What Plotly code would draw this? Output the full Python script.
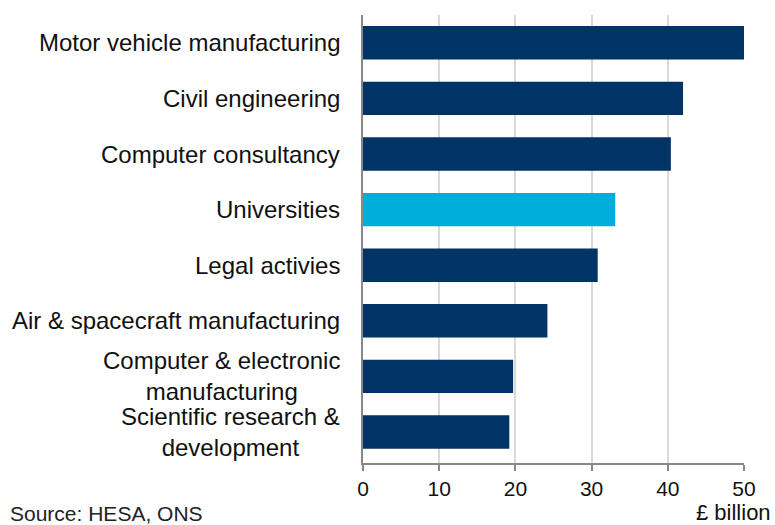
import plotly.graph_objects as go

# Gross value added by industry, £ billion
categories = [
    "Motor vehicle manufacturing",
    "Civil engineering",
    "Computer consultancy",
    "Universities",
    "Legal activies",
    "Air & spacecraft manufacturing",
    "Computer & electronic manufacturing",
    "Scientific research & development",
]
label_text = [
    "Motor vehicle manufacturing",
    "Civil engineering",
    "Computer consultancy",
    "Universities",
    "Legal activies",
    "Air & spacecraft manufacturing",
    "Computer & electronic<br>manufacturing",
    "Scientific research &<br>development",
]
values = [50.0, 42.0, 40.4, 33.1, 30.8, 24.2, 19.7, 19.2]
highlight = "Universities"
x_ticks = [0, 10, 20, 30, 40, 50]

NAVY = "#003366"
CYAN = "#00AEDB"
AXIS_GREY = "#888888"
FONT = "Liberation Sans, Arial, sans-serif"

colors = [CYAN if c == highlight else NAVY for c in categories]

fig = go.Figure(
    go.Bar(
        x=values,
        y=categories,
        orientation="h",
        width=0.6,
        marker=dict(color=colors, line=dict(width=0)),
        hoverinfo="x+y",
    )
)

# Category labels drawn as annotations so wrapped lines can be centred
for cat, txt in zip(categories, label_text):
    fig.add_annotation(
        x=0, xref="paper", xanchor="right", xshift=-21,
        y=cat, yref="y", yanchor="middle",
        text=txt, align="center", showarrow=False,
        font=dict(family=FONT, size=24, color="#111111"),
    )

# Unit label and source line along the bottom edge
fig.add_annotation(
    x=1, xref="paper", xanchor="right", xshift=28,
    y=0, yref="paper", yanchor="bottom", yshift=-63,
    text="£ billion", showarrow=False, borderpad=0,
    font=dict(family=FONT, size=22, color="#111111"),
)
fig.add_annotation(
    x=0, xref="paper", xanchor="left", xshift=-354,
    y=0, yref="paper", yanchor="bottom", yshift=-63,
    text="Source: HESA, ONS", showarrow=False, borderpad=0,
    font=dict(family=FONT, size=21, color="#222222"),
)

fig.update_layout(
    width=775,
    height=525,
    margin=dict(l=363, r=31, t=15, b=62),
    paper_bgcolor="white",
    plot_bgcolor="white",
    showlegend=False,
    font=dict(family=FONT, color="#111111"),
    xaxis=dict(
        range=[0, 50],
        tickvals=x_ticks,
        ticktext=[str(t) for t in x_ticks],
        showgrid=True,
        gridcolor="#d9d9d9",
        gridwidth=1.5,
        zeroline=False,
        showline=True,
        linecolor=AXIS_GREY,
        linewidth=2,
        ticks="outside",
        ticklen=6,
        tickwidth=2,
        tickcolor=AXIS_GREY,
        tickfont=dict(family=FONT, size=21, color="#111111"),
        fixedrange=True,
    ),
    yaxis=dict(
        type="category",
        categoryorder="array",
        categoryarray=categories,
        autorange="reversed",
        showticklabels=False,
        showgrid=False,
        zeroline=False,
        showline=True,
        linecolor=AXIS_GREY,
        linewidth=2,
        ticks="",
        fixedrange=True,
    ),
)

fig.write_html("out.html")
